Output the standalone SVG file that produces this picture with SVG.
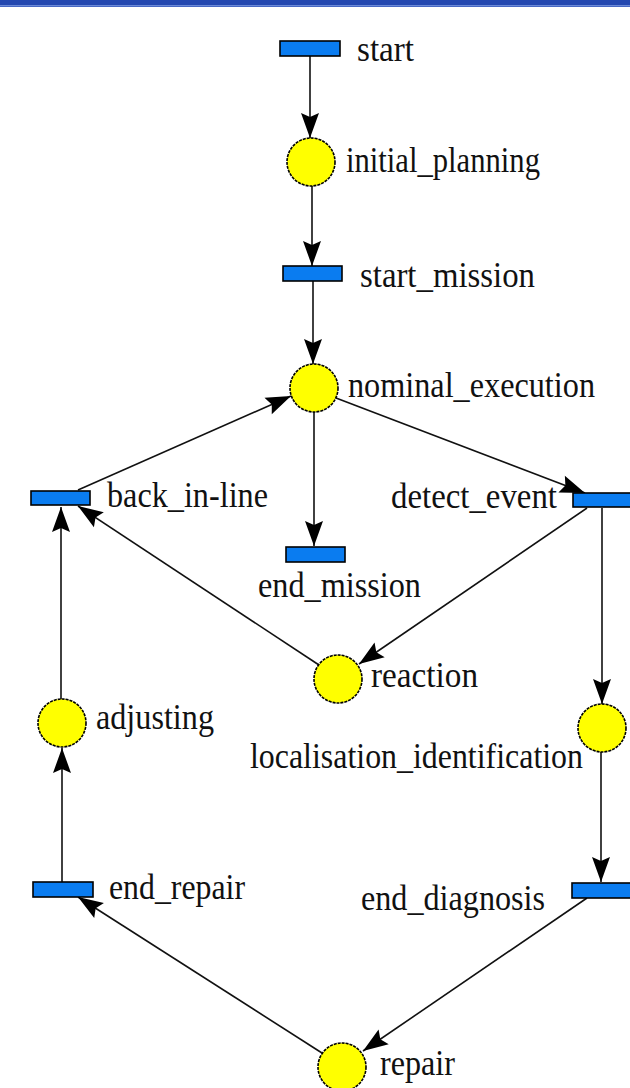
<svg xmlns="http://www.w3.org/2000/svg" width="630" height="1088" viewBox="0 0 630 1088">
<style>
.t{fill:#0a7cf0;stroke:#000;stroke-width:1.6}
.p{fill:#ffff00;stroke:#000;stroke-width:1.6;stroke-dasharray:3 1}
.e{fill:none;stroke:#111;stroke-width:1.6;marker-end:url(#ah)}
.l{font-family:"Liberation Serif","Times New Roman",serif;font-size:36px;fill:#111}
</style>
<defs>
<marker id="ah" markerUnits="userSpaceOnUse" viewBox="-26 -10 27 20" refX="0" refY="0" markerWidth="27" markerHeight="20" orient="auto">
<path d="M0,0 L-25,-9 L-21,0 L-25,9 Z" fill="#000"/>
</marker>
</defs>
<rect x="0" y="0" width="630" height="7" fill="#2448b0"/>
<rect x="0" y="5" width="630" height="1.5" fill="#6c8ad8"/>
<g id="connectors">
<line class="e" x1="310" y1="56" x2="310" y2="138"/>
<line class="e" x1="312" y1="186" x2="312" y2="266"/>
<line class="e" x1="313" y1="281" x2="313" y2="364"/>
<line class="e" x1="314" y1="412" x2="314" y2="546"/>
<line class="e" x1="336" y1="398" x2="585" y2="493"/>
<line class="e" x1="78" y1="490" x2="291" y2="396"/>
<line class="e" x1="319" y1="665" x2="78" y2="506"/>
<line class="e" x1="587" y1="508" x2="359" y2="664"/>
<line class="e" x1="602" y1="508" x2="602" y2="704"/>
<line class="e" x1="601" y1="752" x2="601" y2="882"/>
<line class="e" x1="587" y1="898" x2="363" y2="1051"/>
<line class="e" x1="322" y1="1053" x2="78" y2="897"/>
<line class="e" x1="62" y1="882" x2="62" y2="748"/>
<line class="e" x1="61" y1="699" x2="61" y2="507"/>
</g>
<g id="start"><rect class="t" x="280" y="41" width="60" height="15"/><text class="l" x="357" y="61" textLength="57" lengthAdjust="spacingAndGlyphs">start</text></g>
<g id="initial_planning"><circle class="p" cx="311" cy="162" r="24"/><text class="l" x="346" y="172" textLength="194" lengthAdjust="spacingAndGlyphs">initial_planning</text></g>
<g id="start_mission"><rect class="t" x="283" y="266" width="59" height="15"/><text class="l" x="360" y="287" textLength="175" lengthAdjust="spacingAndGlyphs">start_mission</text></g>
<g id="nominal_execution"><circle class="p" cx="314" cy="388" r="24"/><text class="l" x="348" y="397" textLength="247" lengthAdjust="spacingAndGlyphs">nominal_execution</text></g>
<g id="back_in-line"><rect class="t" x="31" y="491" width="59" height="14"/><text class="l" x="107" y="507" textLength="161" lengthAdjust="spacingAndGlyphs">back_in-line</text></g>
<g id="detect_event"><rect class="t" x="573" y="493" width="60" height="14"/><text class="l" x="391" y="508" textLength="166" lengthAdjust="spacingAndGlyphs">detect_event</text></g>
<g id="end_mission"><rect class="t" x="286" y="547" width="59" height="15"/><text class="l" x="258" y="597" textLength="163" lengthAdjust="spacingAndGlyphs">end_mission</text></g>
<g id="reaction"><circle class="p" cx="338" cy="679" r="24"/><text class="l" x="371" y="687" textLength="107" lengthAdjust="spacingAndGlyphs">reaction</text></g>
<g id="adjusting"><circle class="p" cx="62" cy="723" r="24"/><text class="l" x="96" y="729" textLength="118" lengthAdjust="spacingAndGlyphs">adjusting</text></g>
<g id="localisation_identification"><circle class="p" cx="602" cy="728" r="24"/><text class="l" x="250" y="768" textLength="333" lengthAdjust="spacingAndGlyphs">localisation_identification</text></g>
<g id="end_repair"><rect class="t" x="33" y="882" width="60" height="15"/><text class="l" x="109" y="899" textLength="136" lengthAdjust="spacingAndGlyphs">end_repair</text></g>
<g id="end_diagnosis"><rect class="t" x="572" y="883" width="60" height="15"/><text class="l" x="361" y="910" textLength="184" lengthAdjust="spacingAndGlyphs">end_diagnosis</text></g>
<g id="repair"><circle class="p" cx="342" cy="1067" r="24"/><text class="l" x="380" y="1075" textLength="75" lengthAdjust="spacingAndGlyphs">repair</text></g>
</svg>
